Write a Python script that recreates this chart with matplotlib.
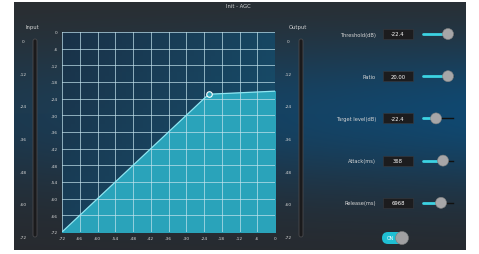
import numpy as np
import matplotlib
matplotlib.use("Agg")
import matplotlib.pyplot as plt
from matplotlib.patches import Rectangle, Circle, FancyBboxPatch

W, H = 479, 255

# transfer curve of the AGC (input dB -> output dB)
curve_in = [-72, -22.4, 0]
curve_out = [-72, -22.4, -21.3]
knee_in, knee_out = -22.4, -22.4

grid_ticks = [-72, -66, -60, -54, -48, -42, -36, -30, -24, -18, -12, -6, 0]
meter_ticks = [0, -12, -24, -36, -48, -60, -72]

ctrl_names = ["Threshold(dB)", "Ratio", "Target level(dB)", "Attack(ms)", "Release(ms)"]
ctrl_values = ["-22.4", "20.00", "-22.4", "368", "6968"]
ctrl_pos = [1.0, 1.0, 0.52, 0.8, 0.72]   # slider knob position 0..1

TXT = "#d4d4d4"
CYAN = "#3cd3e3"

fig = plt.figure(figsize=(W / 100, H / 100), dpi=100, facecolor="white")

# ---- background panel, pixel coordinates
bg = fig.add_axes([0, 0, 1, 1])
bg.set_xlim(0, W)
bg.set_ylim(H, 0)
bg.axis("off")

yy, xx = np.mgrid[0:1:120j, 0:1:240j]
top = np.array([44, 44, 45]) / 255
blue = np.array([16, 72, 112]) / 255
bot = np.array([40, 42, 46]) / 255
v = np.exp(-((yy - 0.45) / 0.32) ** 2)
h = 0.5 + 0.5 * xx
w_blue = (v * h)[..., None]
base = np.where(yy[..., None] < 0.45, top, bot)
img = base * (1 - w_blue) + blue * w_blue
bg.imshow(img, extent=(14, 466, 251, 3), aspect="auto", zorder=0)

bg.text(238, 7, "Init - AGC", color=TXT, fontsize=3.8, ha="center", va="center")

# meters
for x, label, lx in [(35, "Input", 23), (301, "Output", 288)]:
    bg.text(x - 3, 27, label, color=TXT, fontsize=3.8, ha="center", va="center")
    bg.add_patch(FancyBboxPatch((x - 2, 40), 4, 198, boxstyle="round,pad=0,rounding_size=2",
                                fc="#1a1a1c", ec="#4a4a4e", lw=0.6, zorder=2))
    for i, t in enumerate(meter_ticks):
        bg.text(lx, 42 + i * 32.7, str(t), color=TXT, fontsize=3.2, ha="center", va="center")

# controls
for i, (name, val, p) in enumerate(zip(ctrl_names, ctrl_values, ctrl_pos)):
    y = 35 + i * 42.2
    bg.text(376, y, name, color=TXT, fontsize=3.7, ha="right", va="center")
    bg.add_patch(Rectangle((383, y - 5), 30, 10, fc="#1c1c1e", ec="#3a3a3e", lw=0.4, zorder=2))
    bg.text(398, y, val, color="white", fontsize=3.8, ha="center", va="center", zorder=3)
    kx = 423 + p * 25
    bg.plot([423, kx], [y, y], color=CYAN, lw=2.0, solid_capstyle="round", zorder=2)
    if kx < 452:
        bg.plot([kx, 453], [y, y], color="#111111", lw=1.0, zorder=2)
    bg.add_patch(Circle((kx, y), 5.5, fc="#a6a6a8", ec="#808080", lw=0.4, zorder=3))

# ON switch
bg.add_patch(FancyBboxPatch((382, 233), 26, 12, boxstyle="round,pad=0,rounding_size=6",
                            fc="#1fbfd3", ec="none", zorder=2))
bg.text(390, 239, "ON", color="white", fontsize=3.3, ha="center", va="center", zorder=3)
bg.add_patch(Circle((402, 239), 6.5, fc="#a0a0a2", ec="#7a7a7a", lw=0.4, zorder=3))

# ---- transfer plot
ax = fig.add_axes([62 / W, 1 - 233 / H, 213 / W, 200 / H])
ax.set_xlim(-72, 0)
ax.set_ylim(-72, 0)
gy, gx = np.mgrid[0:1:50j, 0:1:50j]
c0 = np.array([26, 50, 72]) / 255
c1 = np.array([22, 84, 116]) / 255
t = (0.6 * gx + 0.4 * gy)[..., None]
ax.imshow(c0 * (1 - t) + c1 * t, extent=(-72, 0, -72, 0), aspect="auto", zorder=0)

ax.fill_between(curve_in, curve_out, -72, color="#2aa3ba", zorder=1)
for g in grid_ticks:
    ax.axvline(g, color="#c4e4ee", lw=0.6, alpha=0.8, zorder=2)
    ax.axhline(g, color="#c4e4ee", lw=0.6, alpha=0.8, zorder=2)
ax.plot(curve_in, curve_out, color="#8fe6f2", lw=0.9, zorder=3)
ax.plot([knee_in], [knee_out], "o", ms=4, mfc="#2aa3ba", mec="white", mew=0.8, zorder=4)

ax.set_xticks(grid_ticks)
ax.set_yticks(grid_ticks)
ax.set_xticklabels([str(t) for t in grid_ticks])
ax.set_yticklabels([str(t) for t in grid_ticks])
ax.tick_params(length=0, labelsize=3.2, colors=TXT, pad=3)
for s in ax.spines.values():
    s.set_visible(False)

fig.savefig("out.png", dpi=100, facecolor="white")
